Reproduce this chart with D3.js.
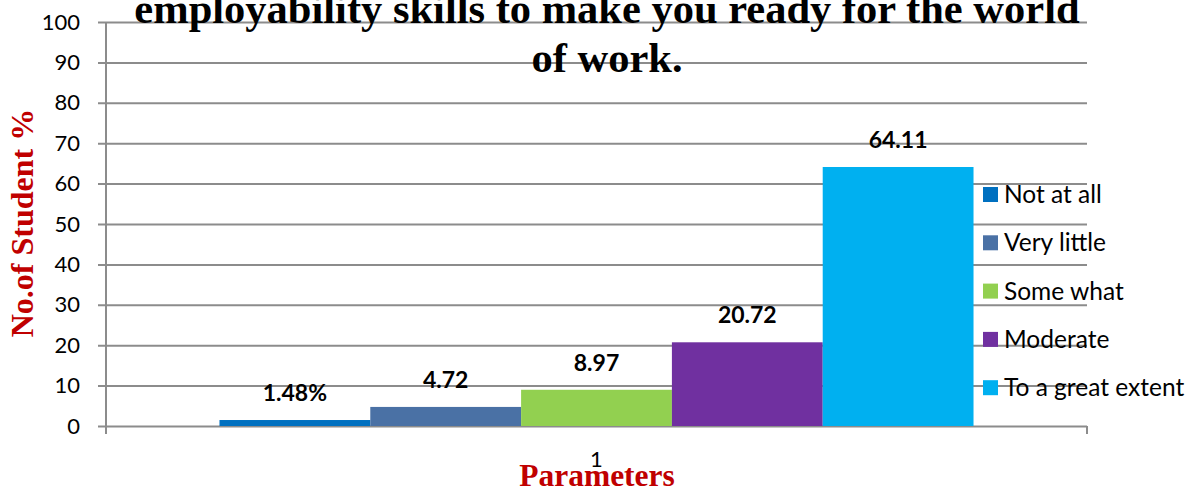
<!DOCTYPE html>
<html>
<head>
<meta charset="utf-8">
<script src="https://cdn.jsdelivr.net/npm/d3@7"></script>
<style>
html,body{margin:0;padding:0;background:#fff;}
svg{display:block;}
</style>
</head>
<body>
<svg id="chart" width="1204" height="491"></svg>
<script>
const categories = ["1"];
const seriesNames = ["Not at all", "Very little", "Some what", "Moderate", "To a great extent"];
const seriesValues = [1.48, 4.72, 8.97, 20.72, 64.11];
const valueLabels = ["1.48%", "4.72", "8.97", "20.72", "64.11"];
const seriesColors = ["#0070C0", "#4A71A5", "#92D050", "#7030A0", "#00B0F0"];
const yTicks = [0, 10, 20, 30, 40, 50, 60, 70, 80, 90, 100];
const titleLines = ["employability skills to make you ready for the world", "of work."];
const yTitle = "No.of Student %";
const xTitle = "Parameters";

(function () {
const svg = d3.select("#chart");
const pl = 106, pr = 1087, pt = 22, pb = 426;
const sansFont = "Lato, 'Open Sans', sans-serif";
const serifFont = "'Liberation Serif', 'Times New Roman', serif";

const y = d3.scaleLinear().domain([0, 100]).range([pb, pt]);
const x0 = d3.scaleBand().domain(categories).range([pl, pr]).paddingInner(0).paddingOuter(0.1505);
const x1 = d3.scaleBand().domain(seriesNames).range([0, x0.bandwidth()]).padding(0);

// gridlines + y ticks
const yAxis = d3.axisLeft(y).tickValues(yTicks).tickSize(pr - pl + 8).tickSizeOuter(0).tickPadding(16);
const gy = svg.append("g").attr("transform", `translate(${pr},0)`).call(yAxis);
gy.select(".domain").remove();
gy.selectAll(".tick line").attr("stroke", "#8c8c8c").attr("stroke-width", 2);
gy.selectAll(".tick text").attr("font-family", sansFont).attr("font-size", 22).attr("fill", "#000")
  .attr("x", -(pr - pl) - 26);

// vertical axis line
svg.append("line").attr("x1", pl).attr("x2", pl).attr("y1", pt).attr("y2", pb + 7)
  .attr("stroke", "#8c8c8c").attr("stroke-width", 2);
[pl, pr].forEach(px => {
  svg.append("line").attr("x1", px).attr("x2", px).attr("y1", pb).attr("y2", pb + 8)
    .attr("stroke", "#8c8c8c").attr("stroke-width", 2);
});

// bars
const g = svg.append("g");
categories.forEach(cat => {
  seriesNames.forEach((s, i) => {
    const bx = x0(cat) + x1(s);
    g.append("rect").attr("x", bx).attr("width", x1.bandwidth())
      .attr("y", y(seriesValues[i])).attr("height", y(0) - y(seriesValues[i]))
      .attr("fill", seriesColors[i]);
    g.append("text").attr("x", bx + x1.bandwidth() / 2).attr("y", y(seriesValues[i]) - 19)
      .attr("text-anchor", "middle").attr("font-family", sansFont).attr("font-weight", "bold")
      .attr("font-size", 23).attr("fill", "#000").text(valueLabels[i]);
  });
  svg.append("text").attr("x", x0(cat) + x0.bandwidth() / 2).attr("y", 467)
    .attr("text-anchor", "middle").attr("font-family", sansFont).attr("font-size", 22)
    .attr("fill", "#000").text(cat);
});

// legend
const lg = svg.append("g");
seriesNames.forEach((s, i) => {
  const ly = 194 + i * 48.3;
  lg.append("rect").attr("x", 983).attr("y", ly - 7).attr("width", 15).attr("height", 15).attr("fill", seriesColors[i]);
  lg.append("text").attr("x", 1004).attr("y", ly + 9).attr("font-family", sansFont).attr("font-size", 24.5)
    .attr("fill", "#000").text(s);
});

// title
titleLines.forEach((t, i) => {
  svg.append("text").attr("x", 607).attr("y", 23 + i * 49).attr("text-anchor", "middle")
    .attr("font-family", serifFont).attr("font-weight", "bold").attr("font-size", 42.5)
    .attr("fill", "#000").text(t);
});

// axis titles
svg.append("text").attr("x", 597).attr("y", 486).attr("text-anchor", "middle")
  .attr("font-family", serifFont).attr("font-weight", "bold").attr("font-size", 31.5)
  .attr("fill", "#C00000").text(xTitle);
svg.append("text").attr("transform", "translate(33,223) rotate(-90)").attr("text-anchor", "middle")
  .attr("font-family", serifFont).attr("font-weight", "bold").attr("font-size", 32)
  .attr("fill", "#C00000").text(yTitle);
})();
</script>
</body>
</html>
